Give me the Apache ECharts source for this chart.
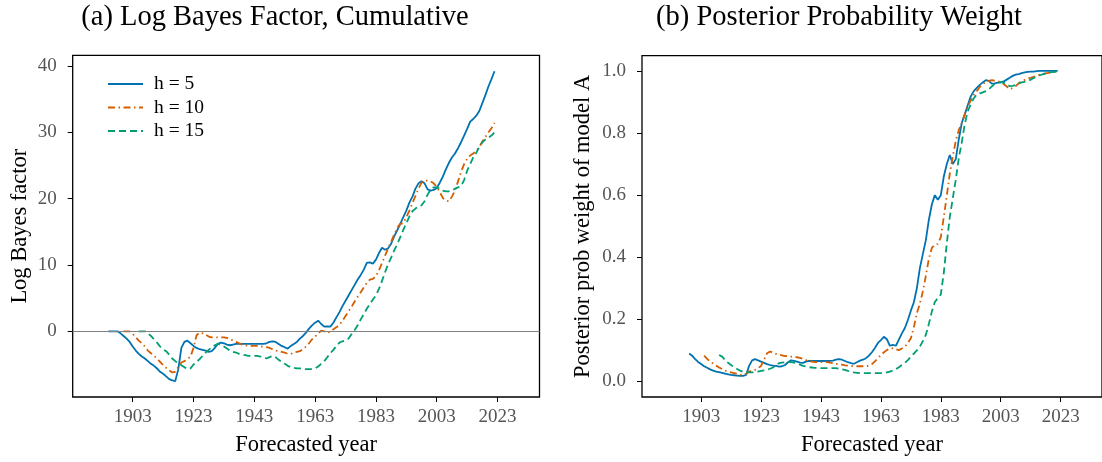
<!DOCTYPE html>
<html>
<head>
<meta charset="utf-8">
<script src="https://cdn.jsdelivr.net/npm/echarts@6/dist/echarts.min.js"></script>
<style>html,body{margin:0;padding:0;background:#fff}#c{width:1102px;height:462px}</style>
</head>
<body>
<div id="c"></div>
<script>
// ---------- data ----------
const seriesNames = ['h = 5', 'h = 10', 'h = 15'];
const xTicks = [1903, 1923, 1943, 1963, 1983, 2003, 2023];
const yTicksA = [0, 10, 20, 30, 40];
const yTicksB = [0, 0.2, 0.4, 0.6, 0.8, 1.0];

// Panel (a): cumulative log Bayes factor, yearly values
const lbfH5Start = 1895;
const lbfH5 = [
  0, 0, 0, 0, -0.3,
  -0.7, -1.1, -1.6, -2.3, -2.9, -3.4, -3.8, -4.1, -4.5, -4.9,
  -5.2, -5.6, -6.1, -6.4, -6.8, -7.2, -7.4, -7.5, -5.7, -2.5,
  -1.6, -1.4, -1.8, -2.2, -2.5, -2.7, -2.8, -2.9, -3.1, -3.0,
  -2.5, -1.9, -1.7, -1.8, -2.0, -2.1, -2.0, -1.9, -1.9, -1.9,
  -1.9, -1.9, -1.9, -1.9, -1.9, -1.9, -1.9, -1.8, -1.6, -1.5,
  -1.6, -1.9, -2.2, -2.4, -2.6, -2.2, -1.9, -1.6, -1.1, -0.7,
  -0.2, 0.4, 0.9, 1.3, 1.6, 1.1, 0.7, 0.75, 0.7, 1.3,
  2.1, 2.9, 3.8, 4.6, 5.4, 6.2, 7.0, 7.8, 8.5, 9.3,
  10.3, 10.4, 10.2, 10.8, 11.8, 12.6, 12.3, 12.5, 13.2, 14.3,
  15.2, 16.2, 17.2, 18.2, 19.4, 20.3, 21.5, 22.3, 22.6, 22.3,
  21.4, 21.2, 21.3, 21.6, 22.4, 23.3, 24.4, 25.4, 26.2, 26.8,
  27.6, 28.5, 29.5, 30.5, 31.6, 32.0, 32.5, 33.2, 34.4, 35.6,
  36.9, 38.0, 39.2
];
const lbfH10Start = 1900;
const lbfH10 = [
  0, 0, 0, -0.4, -0.9, -1.4, -1.8, -2.3, -2.9, -3.3,
  -3.7, -4.1, -4.6, -5.1, -5.5, -5.9, -6.2, -6.1, -5.4, -4.7,
  -4.5, -4.2, -3.8, -2.5, -0.6, -0.2, -0.3, -0.5, -0.8, -0.9,
  -0.9, -0.9, -0.9, -0.9, -1.0, -1.2, -1.4, -1.6, -1.8, -2.0,
  -2.1, -2.2, -2.2, -2.2, -2.2, -2.3, -2.3, -2.4, -2.5, -2.7,
  -2.9, -3.0, -3.1, -3.2, -3.4, -3.4, -3.2, -3.1, -3.0, -2.7,
  -2.3, -1.8, -1.2, -0.8, -0.3, 0.1, 0.0, -0.2, -0.1, 0.3,
  0.6, 1.0, 1.6, 2.3, 3.0, 3.7, 4.5, 5.2, 5.9, 6.6,
  7.3, 7.8, 7.9, 8.3, 9.2, 10.3, 11.4, 12.5, 13.5, 14.6,
  15.6, 16.2, 16.3, 17.2, 18.2, 19.3, 20.4, 21.5, 22.4, 22.7,
  22.7, 22.6, 22.3, 21.8, 21.0, 20.1, 19.7, 19.6, 20.3, 21.2,
  22.6, 24.0, 25.2, 26.0, 26.5, 26.8, 27.2, 27.8, 28.6, 29.3,
  30.0, 30.6, 31.4
];
const lbfH15Start = 1905;
const lbfH15 = [
  0, 0, 0, -0.3, -0.7,
  -1.2, -1.7, -2.3, -2.7, -3.0, -3.5, -4.1, -4.5, -4.8, -5.1,
  -5.4, -5.7, -5.6, -5.0, -4.6, -4.2, -3.7, -3.2, -2.8, -2.4,
  -2.1, -1.9, -2.0, -2.3, -2.6, -2.9, -3.1, -3.2, -3.4, -3.5,
  -3.6, -3.7, -3.7, -3.7, -3.7, -3.8, -3.9, -4.1, -3.9, -3.7,
  -3.9, -4.3, -4.6, -4.9, -5.2, -5.4, -5.5, -5.6, -5.6, -5.7,
  -5.7, -5.7, -5.7, -5.6, -5.3, -4.9, -4.5, -3.9, -3.3, -2.8,
  -2.2, -1.7, -1.5, -1.4, -1.1, -0.4, 0.2, 0.9, 1.8, 2.6,
  3.4, 4.1, 4.8, 5.4, 6.4, 7.6, 8.9, 10.1, 11.1, 12.2,
  13.1, 14.2, 15.3, 16.3, 17.3, 18.1, 18.5, 18.8, 19.0, 19.6,
  20.6, 21.4, 21.7, 21.7, 21.5, 21.2, 21.1, 21.1, 21.2, 21.5,
  21.7, 21.9, 22.8, 24.2, 25.2, 26.2, 26.9, 27.8, 28.5, 28.9,
  29.2, 29.5, 30.0
];

// Panel (b): posterior probability weight of model A, yearly values
const ppwH5Start = 1899;
const ppwH5 = [
  0.090,
  0.083, 0.072, 0.063, 0.056, 0.049, 0.044, 0.039, 0.035, 0.032, 0.030,
  0.028, 0.025, 0.023, 0.021, 0.020, 0.019, 0.018, 0.018, 0.021, 0.050,
  0.068, 0.072, 0.068, 0.064, 0.060, 0.056, 0.053, 0.051, 0.050, 0.048,
  0.049, 0.053, 0.062, 0.068, 0.066, 0.064, 0.061, 0.060, 0.064, 0.066,
  0.066, 0.066, 0.066, 0.066, 0.066, 0.066, 0.066, 0.067, 0.070, 0.072,
  0.070, 0.066, 0.062, 0.059, 0.057, 0.062, 0.067, 0.070, 0.075, 0.083,
  0.094, 0.108, 0.124, 0.133, 0.144, 0.136, 0.115, 0.118, 0.115, 0.135,
  0.155, 0.172, 0.198, 0.228, 0.255, 0.300, 0.365, 0.410, 0.455, 0.520,
  0.570, 0.600, 0.585, 0.600, 0.660, 0.700, 0.729, 0.700, 0.716, 0.780,
  0.833, 0.860, 0.890, 0.918, 0.935, 0.945, 0.955, 0.963, 0.970, 0.968,
  0.959, 0.960, 0.962, 0.963, 0.966, 0.972, 0.978, 0.984, 0.988, 0.990,
  0.993, 0.995, 0.997, 0.998, 0.998, 0.999, 1.0, 1.0, 1.0, 1.0,
  1.0, 1.0, 1.0
];
const ppwH10Start = 1904;
const ppwH10 = [
  0.083, 0.073, 0.064, 0.058, 0.051, 0.045,
  0.040, 0.035, 0.031, 0.029, 0.027, 0.025, 0.022, 0.021, 0.025, 0.032,
  0.035, 0.037, 0.043, 0.050, 0.070, 0.091, 0.096, 0.094, 0.089, 0.086,
  0.084, 0.082, 0.081, 0.080, 0.079, 0.078, 0.076, 0.073, 0.069, 0.066,
  0.064, 0.062, 0.062, 0.062, 0.062, 0.062, 0.061, 0.059, 0.057, 0.056,
  0.054, 0.052, 0.051, 0.050, 0.049, 0.049, 0.049, 0.049, 0.049, 0.051,
  0.056, 0.065, 0.075, 0.085, 0.094, 0.101, 0.106, 0.107, 0.104, 0.101,
  0.106, 0.112, 0.124, 0.139, 0.175, 0.220, 0.250, 0.290, 0.340, 0.395,
  0.430, 0.440, 0.443, 0.465, 0.530, 0.598, 0.670, 0.725, 0.775, 0.810,
  0.833, 0.860, 0.885, 0.905, 0.922, 0.935, 0.948, 0.958, 0.964, 0.968,
  0.970, 0.969, 0.967, 0.963, 0.958, 0.950, 0.941, 0.945, 0.951, 0.960,
  0.967, 0.971, 0.975, 0.978, 0.981, 0.985, 0.988, 0.990, 0.992, 0.994,
  0.996, 0.997, 0.998
];
const ppwH15Start = 1909;
const ppwH15 = [
  0.085,
  0.080, 0.069, 0.060, 0.053, 0.046, 0.040, 0.035, 0.031, 0.029, 0.029,
  0.029, 0.030, 0.032, 0.034, 0.036, 0.038, 0.041, 0.045, 0.053, 0.059,
  0.061, 0.062, 0.062, 0.062, 0.061, 0.058, 0.054, 0.050, 0.048, 0.046,
  0.045, 0.044, 0.043, 0.043, 0.043, 0.043, 0.043, 0.043, 0.043, 0.041,
  0.039, 0.037, 0.034, 0.031, 0.029, 0.028, 0.027, 0.027, 0.027, 0.027,
  0.027, 0.027, 0.027, 0.027, 0.027, 0.029, 0.032, 0.035, 0.040, 0.046,
  0.053, 0.060, 0.069, 0.080, 0.090, 0.100, 0.112, 0.130, 0.150, 0.185,
  0.225, 0.256, 0.268, 0.280, 0.350, 0.445, 0.530, 0.590, 0.650, 0.720,
  0.770, 0.830, 0.870, 0.893, 0.912, 0.924, 0.928, 0.931, 0.935, 0.940,
  0.950, 0.958, 0.962, 0.964, 0.962, 0.957, 0.951, 0.952, 0.955, 0.960,
  0.963, 0.965, 0.967, 0.972, 0.977, 0.982, 0.986, 0.989, 0.992, 0.994,
  0.996, 0.997, 0.998
];

// ---------- chart ----------
const FONT = '"Liberation Serif", "DejaVu Serif", serif';
const COLORS = ['#0072B2', '#D55E00', '#009E73'];
const DASHES = ['solid', [7, 3.5, 1.5, 3.5], [7, 4]];
const toPairs = (start, arr) => arr.map((v, i) => [start + i, v]);

function xAxisFor(gi) {
  return {
    gridIndex: gi, type: 'value', min: 1883.26, max: 2036.8,
    axisLine: { show: false, onZero: false },
    axisTick: { show: true, length: 5, customValues: xTicks, lineStyle: { color: '#000', width: 1 } },
    axisLabel: { customValues: xTicks, formatter: v => String(v), margin: 11,
                 fontFamily: FONT, fontSize: 19, color: '#555' },
    splitLine: { show: false },
    name: 'Forecasted year', nameLocation: 'middle', nameGap: 37,
    nameTextStyle: { fontFamily: FONT, fontSize: 22.5, color: '#000' }
  };
}

function lineSeries(idx, gi, data, extra) {
  return Object.assign({
    name: seriesNames[idx], type: 'line', xAxisIndex: gi, yAxisIndex: gi,
    data: data, showSymbol: false, symbol: 'none', smooth: false,
    lineStyle: { color: COLORS[idx], width: 1.8, type: DASHES[idx] },
    itemStyle: { color: COLORS[idx] },
    emphasis: { disabled: true }
  }, extra || {});
}

const option = {
  animation: false,
  backgroundColor: '#fff',
  graphic: [
    { type: 'text', style: { text: '(a) Log Bayes Factor, Cumulative', x: 275, y: 18,
        textAlign: 'center', textVerticalAlign: 'middle', font: '28.5px ' + FONT, fill: '#000' } },
    { type: 'text', style: { text: '(b) Posterior Probability Weight', x: 839, y: 18,
        textAlign: 'center', textVerticalAlign: 'middle', font: '28.5px ' + FONT, fill: '#000' } }
  ],
  grid: [
    { left: 72.7, top: 55.3, width: 466.8, height: 343, show: true,
      borderColor: '#000', borderWidth: 1.3, backgroundColor: 'transparent' },
    { left: 642, top: 55.7, width: 460, height: 343.3, show: true,
      borderColor: '#000', borderWidth: 1.3, backgroundColor: 'transparent' }
  ],
  legend: {
    data: seriesNames, orient: 'vertical', left: 102, top: 69,
    itemWidth: 35, itemHeight: 14, itemGap: 3.5,
    itemStyle: { opacity: 0 },
    textStyle: { fontFamily: FONT, fontSize: 19.5, lineHeight: 19, color: '#000', padding: [0, 0, 0, 6] },
    selectedMode: false
  },
  xAxis: [xAxisFor(0), xAxisFor(1)],
  yAxis: [
    { gridIndex: 0, type: 'value', min: -9.9, max: 41.6,
      axisLine: { show: false, onZero: false },
      axisTick: { show: true, length: 5, customValues: yTicksA, lineStyle: { color: '#000', width: 1 } },
      axisLabel: { customValues: yTicksA, margin: 16, fontFamily: FONT, fontSize: 19, color: '#555' },
      splitLine: { show: false },
      name: 'Log Bayes factor', nameLocation: 'middle', nameGap: 41,
      nameTextStyle: { fontFamily: FONT, fontSize: 22.5, color: '#000' } },
    { gridIndex: 1, type: 'value', min: -0.05, max: 1.049,
      axisLine: { show: false, onZero: false },
      axisTick: { show: true, length: 5, customValues: yTicksB, lineStyle: { color: '#000', width: 1 } },
      axisLabel: { customValues: yTicksB, formatter: v => v.toFixed(1), margin: 16,
                   fontFamily: FONT, fontSize: 19, color: '#555' },
      splitLine: { show: false },
      name: 'Posterior prob weight of model A', nameLocation: 'middle', nameGap: 47,
      nameTextStyle: { fontFamily: FONT, fontSize: 22.5, color: '#000' } }
  ],
  series: [
    lineSeries(0, 0, toPairs(lbfH5Start, lbfH5), {
      markLine: { silent: true, symbol: 'none', label: { show: false },
                  lineStyle: { color: '#808080', width: 1, type: 'solid' },
                  emphasis: { disabled: true }, data: [{ yAxis: 0 }] }
    }),
    lineSeries(1, 0, toPairs(lbfH10Start, lbfH10)),
    lineSeries(2, 0, toPairs(lbfH15Start, lbfH15)),
    lineSeries(0, 1, toPairs(ppwH5Start, ppwH5)),
    lineSeries(1, 1, toPairs(ppwH10Start, ppwH10)),
    lineSeries(2, 1, toPairs(ppwH15Start, ppwH15))
  ]
};

const chart = echarts.init(document.getElementById('c'), null, { renderer: 'canvas' });
chart.setOption(option);
</script>
</body>
</html>
